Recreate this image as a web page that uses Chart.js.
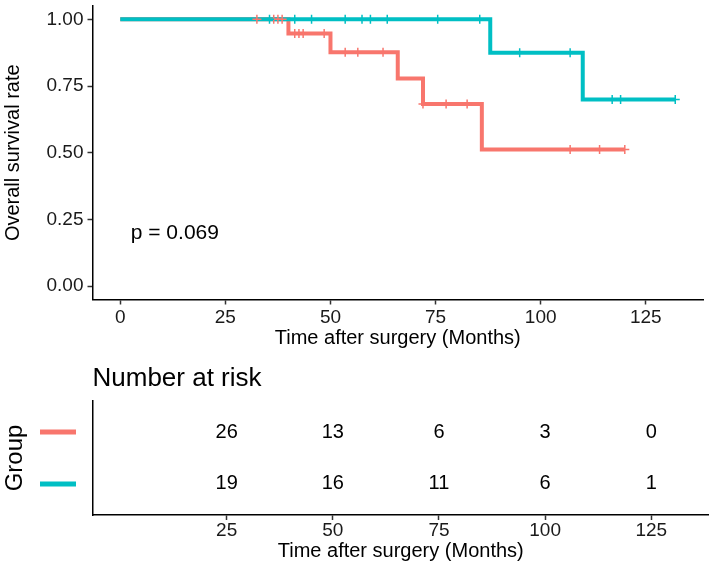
<!DOCTYPE html>
<html>
<head>
<meta charset="utf-8">
<script src="https://cdn.jsdelivr.net/npm/chart.js@4.4.0/dist/chart.umd.min.js"></script>
<style>
  body { margin: 0; background: #fff; }
  #wrap { position: relative; width: 709px; height: 568px; }
  canvas { position: absolute; left: 0; }
</style>
</head>
<body>
<div id="wrap">
  <canvas id="km" width="709" height="350" style="top:0"></canvas>
  <canvas id="risk" width="709" height="218" style="top:350px"></canvas>
</div>
<script>
// survival steps
const redTimes = [0, 40, 50, 66, 72, 86, 120];
const redSurv = [1, 0.947, 0.877, 0.778, 0.683, 0.512, 0.512];
const tealTimes = [0, 88, 110, 132];
const tealSurv = [1, 0.875, 0.70, 0.70];

// censor marks (months)
const redCensor = [32.5, 36.5, 37.5, 38.5, 41.5, 42.5, 43.5, 48.5, 53.5, 56.5, 62.5, 72, 77.5, 82.5, 107, 114, 120];
const tealCensor = [35.5, 41.5, 45.5, 53.5, 57.5, 59.5, 63.5, 75.5, 85.5, 95, 107, 117, 119, 132];

const xTicks = [0, 25, 50, 75, 100, 125];
const yTicks = [0, 0.25, 0.5, 0.75, 1];

// number at risk table
const riskTimes = [25, 50, 75, 100, 125];
const riskRed = [26, 13, 6, 3, 0];
const riskTeal = [19, 16, 11, 6, 1];

const pText = 'p = 0.069';

const RED = '#F8766D';
const TEAL = '#00BFC4';
const X_MIN = -6.6, X_MAX = 138.6;

Chart.defaults.font.family = "'Liberation Sans', Arial, sans-serif";
Chart.defaults.color = '#1a1a1a';

function survAt(times, surv, t) {
  let s = surv[0];
  for (let i = 0; i < times.length; i++) {
    if (t >= times[i]) s = surv[i];
  }
  return s;
}

// fixed axis sizes, no extra label padding
function fixHeight(h) {
  return s => { s.height = h; s.paddingLeft = 0; s.paddingRight = 0; };
}
function fixWidth(w) {
  return s => { s.width = w; s.paddingTop = 0; s.paddingBottom = 0; };
}

const axisGrid = { drawOnChartArea: false, drawTicks: true, tickLength: 5, tickWidth: 1.5, tickColor: '#333' };
const axisBorder = { display: true, color: '#000', width: 1.5 };

const pPlugin = {
  id: 'pval',
  afterDraw(chart) {
    const { ctx, scales } = chart;
    ctx.save();
    ctx.font = "21px 'Liberation Sans', Arial, sans-serif";
    ctx.fillStyle = '#000';
    ctx.textAlign = 'left';
    ctx.textBaseline = 'middle';
    ctx.fillText(pText, scales.x.getPixelForValue(2.5), scales.y.getPixelForValue(0.2));
    ctx.restore();
  }
};

new Chart(document.getElementById('km').getContext('2d'), {
  type: 'scatter',
  data: {
    datasets: [
      {
        data: tealCensor.map(t => ({ x: t, y: survAt(tealTimes, tealSurv, t) })),
        pointStyle: 'cross', pointRadius: 4.5, borderColor: TEAL, borderWidth: 1.5,
        showLine: false, order: 0
      },
      {
        data: redCensor.map(t => ({ x: t, y: survAt(redTimes, redSurv, t) })),
        pointStyle: 'cross', pointRadius: 4.5, borderColor: RED, borderWidth: 1.5,
        showLine: false, order: 1
      },
      {
        data: tealTimes.map((t, i) => ({ x: t, y: tealSurv[i] })),
        showLine: true, stepped: true, borderColor: TEAL, borderWidth: 4,
        pointRadius: 0, fill: false, order: 2
      },
      {
        data: redTimes.map((t, i) => ({ x: t, y: redSurv[i] })),
        showLine: true, stepped: true, borderColor: RED, borderWidth: 4,
        pointRadius: 0, fill: false, order: 3
      }
    ]
  },
  options: {
    responsive: false,
    animation: false,
    devicePixelRatio: 1,
    layout: { padding: { top: 2.5, right: 0, bottom: 0, left: 0 } },
    plugins: { legend: { display: false }, tooltip: { enabled: false } },
    scales: {
      x: {
        type: 'linear', min: X_MIN, max: X_MAX,
        afterBuildTicks: s => { s.ticks = xTicks.map(v => ({ value: v })); },
        afterFit: fixHeight(50.5),
        grid: axisGrid, border: axisBorder,
        ticks: { font: { size: 19 }, padding: 2, maxRotation: 0, autoSkip: false },
        title: { display: true, text: 'Time after surgery (Months)', color: '#000', font: { size: 20 }, padding: { top: 0, bottom: 0 } }
      },
      y: {
        type: 'linear', min: -0.05, max: 1.05,
        afterBuildTicks: s => { s.ticks = yTicks.map(v => ({ value: v })); },
        afterFit: fixWidth(92.5),
        grid: axisGrid, border: axisBorder,
        ticks: { font: { size: 19 }, padding: 4, callback: v => v.toFixed(2) },
        title: { display: true, text: 'Overall survival rate', color: '#000', font: { size: 20 }, padding: { top: 1, bottom: 0 } }
      }
    }
  },
  plugins: [pPlugin]
});

const riskPlugin = {
  id: 'riskTable',
  afterDraw(chart) {
    const { ctx, scales } = chart;
    const rows = [[riskRed, RED], [riskTeal, TEAL]];
    ctx.save();
    rows.forEach(([vals, col], r) => {
      const y = scales.y.getPixelForValue(r + 1);
      // group key on the left
      ctx.strokeStyle = col;
      ctx.lineWidth = 5;
      ctx.beginPath();
      ctx.moveTo(40, y);
      ctx.lineTo(76, y);
      ctx.stroke();
      ctx.font = "20px 'Liberation Sans', Arial, sans-serif";
      ctx.fillStyle = '#000';
      ctx.textAlign = 'center';
      ctx.textBaseline = 'middle';
      vals.forEach((v, i) => {
        ctx.fillText(String(v), scales.x.getPixelForValue(riskTimes[i]), y);
      });
    });
    ctx.restore();
  }
};

new Chart(document.getElementById('risk').getContext('2d'), {
  type: 'scatter',
  data: { datasets: [{ data: [] }] },
  options: {
    responsive: false,
    animation: false,
    devicePixelRatio: 1,
    layout: { padding: 0 },
    plugins: {
      legend: { display: false },
      tooltip: { enabled: false },
      title: {
        display: true, text: 'Number at risk', align: 'start', fullSize: false,
        color: '#000', font: { size: 26, weight: 'normal' }, padding: { top: 13.4, bottom: 6.4 }
      }
    },
    scales: {
      x: {
        type: 'linear', min: X_MIN, max: X_MAX,
        afterBuildTicks: s => { s.ticks = riskTimes.map(v => ({ value: v })); },
        afterFit: fixHeight(53),
        grid: axisGrid, border: axisBorder,
        ticks: { font: { size: 19 }, padding: -1, maxRotation: 0, autoSkip: false },
        title: { display: true, text: 'Time after surgery (Months)', color: '#000', font: { size: 20 }, padding: { top: 0, bottom: 5 } }
      },
      y: {
        type: 'linear', min: 0.4, max: 2.6, reverse: true,
        afterFit: fixWidth(92.5),
        grid: { display: false }, border: axisBorder,
        ticks: { display: false },
        title: { display: true, text: 'Group', color: '#000', font: { size: 24 }, padding: { top: 1, bottom: 0 } }
      }
    }
  },
  plugins: [riskPlugin]
});
</script>
</body>
</html>
